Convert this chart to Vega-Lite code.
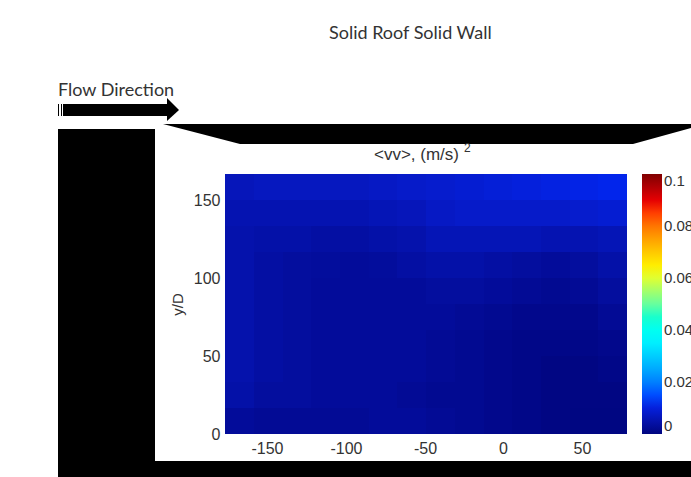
{
"$schema":"https://vega.github.io/schema/vega-lite/v6.json",
"width":402,"height":260,
"autosize":{"type":"none"},
"padding":{"left":225,"top":174,"right":64,"bottom":43},
"background":"white",
"config":{"view":{"stroke":null}},
"layer":[
{"data":{"values":[
{"x0":-176.6,"x1":-158.4,"y0":150,"y1":166.7,"v":0.0065},{"x0":-158.4,"x1":-140.1,"y0":150,"y1":166.7,"v":0.007},{"x0":-140.1,"x1":-121.9,"y0":150,"y1":166.7,"v":0.007},{"x0":-121.9,"x1":-103.7,"y0":150,"y1":166.7,"v":0.007},{"x0":-103.7,"x1":-85.5,"y0":150,"y1":166.7,"v":0.007},{"x0":-85.5,"x1":-67.2,"y0":150,"y1":166.7,"v":0.0075},{"x0":-67.2,"x1":-49,"y0":150,"y1":166.7,"v":0.008},{"x0":-49,"x1":-30.8,"y0":150,"y1":166.7,"v":0.0085},{"x0":-30.8,"x1":-12.5,"y0":150,"y1":166.7,"v":0.009},{"x0":-12.5,"x1":5.7,"y0":150,"y1":166.7,"v":0.0095},{"x0":5.7,"x1":23.9,"y0":150,"y1":166.7,"v":0.01},{"x0":23.9,"x1":42.1,"y0":150,"y1":166.7,"v":0.0105},{"x0":42.1,"x1":60.3,"y0":150,"y1":166.7,"v":0.011},{"x0":60.3,"x1":78.5,"y0":150,"y1":166.7,"v":0.0115},
{"x0":-176.6,"x1":-158.4,"y0":133.4,"y1":150,"v":0.0055},{"x0":-158.4,"x1":-140.1,"y0":133.4,"y1":150,"v":0.0055},{"x0":-140.1,"x1":-121.9,"y0":133.4,"y1":150,"v":0.0055},{"x0":-121.9,"x1":-103.7,"y0":133.4,"y1":150,"v":0.0055},{"x0":-103.7,"x1":-85.5,"y0":133.4,"y1":150,"v":0.0055},{"x0":-85.5,"x1":-67.2,"y0":133.4,"y1":150,"v":0.006},{"x0":-67.2,"x1":-49,"y0":133.4,"y1":150,"v":0.0065},{"x0":-49,"x1":-30.8,"y0":133.4,"y1":150,"v":0.0075},{"x0":-30.8,"x1":-12.5,"y0":133.4,"y1":150,"v":0.008},{"x0":-12.5,"x1":5.7,"y0":133.4,"y1":150,"v":0.008},{"x0":5.7,"x1":23.9,"y0":133.4,"y1":150,"v":0.008},{"x0":23.9,"x1":42.1,"y0":133.4,"y1":150,"v":0.008},{"x0":42.1,"x1":60.3,"y0":133.4,"y1":150,"v":0.0085},{"x0":60.3,"x1":78.5,"y0":133.4,"y1":150,"v":0.009},
{"x0":-176.6,"x1":-158.4,"y0":116.7,"y1":133.4,"v":0.005},{"x0":-158.4,"x1":-140.1,"y0":116.7,"y1":133.4,"v":0.0045},{"x0":-140.1,"x1":-121.9,"y0":116.7,"y1":133.4,"v":0.0045},{"x0":-121.9,"x1":-103.7,"y0":116.7,"y1":133.4,"v":0.004},{"x0":-103.7,"x1":-85.5,"y0":116.7,"y1":133.4,"v":0.004},{"x0":-85.5,"x1":-67.2,"y0":116.7,"y1":133.4,"v":0.0045},{"x0":-67.2,"x1":-49,"y0":116.7,"y1":133.4,"v":0.005},{"x0":-49,"x1":-30.8,"y0":116.7,"y1":133.4,"v":0.006},{"x0":-30.8,"x1":-12.5,"y0":116.7,"y1":133.4,"v":0.006},{"x0":-12.5,"x1":5.7,"y0":116.7,"y1":133.4,"v":0.006},{"x0":5.7,"x1":23.9,"y0":116.7,"y1":133.4,"v":0.006},{"x0":23.9,"x1":42.1,"y0":116.7,"y1":133.4,"v":0.0055},{"x0":42.1,"x1":60.3,"y0":116.7,"y1":133.4,"v":0.0055},{"x0":60.3,"x1":78.5,"y0":116.7,"y1":133.4,"v":0.006},
{"x0":-176.6,"x1":-158.4,"y0":100,"y1":116.7,"v":0.005},{"x0":-158.4,"x1":-140.1,"y0":100,"y1":116.7,"v":0.004},{"x0":-140.1,"x1":-121.9,"y0":100,"y1":116.7,"v":0.0035},{"x0":-121.9,"x1":-103.7,"y0":100,"y1":116.7,"v":0.0032},{"x0":-103.7,"x1":-85.5,"y0":100,"y1":116.7,"v":0.003},{"x0":-85.5,"x1":-67.2,"y0":100,"y1":116.7,"v":0.0032},{"x0":-67.2,"x1":-49,"y0":100,"y1":116.7,"v":0.004},{"x0":-49,"x1":-30.8,"y0":100,"y1":116.7,"v":0.0045},{"x0":-30.8,"x1":-12.5,"y0":100,"y1":116.7,"v":0.0045},{"x0":-12.5,"x1":5.7,"y0":100,"y1":116.7,"v":0.004},{"x0":5.7,"x1":23.9,"y0":100,"y1":116.7,"v":0.0035},{"x0":23.9,"x1":42.1,"y0":100,"y1":116.7,"v":0.003},{"x0":42.1,"x1":60.3,"y0":100,"y1":116.7,"v":0.0035},{"x0":60.3,"x1":78.5,"y0":100,"y1":116.7,"v":0.0045},
{"x0":-176.6,"x1":-158.4,"y0":83.4,"y1":100,"v":0.005},{"x0":-158.4,"x1":-140.1,"y0":83.4,"y1":100,"v":0.004},{"x0":-140.1,"x1":-121.9,"y0":83.4,"y1":100,"v":0.0035},{"x0":-121.9,"x1":-103.7,"y0":83.4,"y1":100,"v":0.003},{"x0":-103.7,"x1":-85.5,"y0":83.4,"y1":100,"v":0.003},{"x0":-85.5,"x1":-67.2,"y0":83.4,"y1":100,"v":0.003},{"x0":-67.2,"x1":-49,"y0":83.4,"y1":100,"v":0.003},{"x0":-49,"x1":-30.8,"y0":83.4,"y1":100,"v":0.0035},{"x0":-30.8,"x1":-12.5,"y0":83.4,"y1":100,"v":0.0035},{"x0":-12.5,"x1":5.7,"y0":83.4,"y1":100,"v":0.003},{"x0":5.7,"x1":23.9,"y0":83.4,"y1":100,"v":0.0025},{"x0":23.9,"x1":42.1,"y0":83.4,"y1":100,"v":0.002},{"x0":42.1,"x1":60.3,"y0":83.4,"y1":100,"v":0.0025},{"x0":60.3,"x1":78.5,"y0":83.4,"y1":100,"v":0.0035},
{"x0":-176.6,"x1":-158.4,"y0":66.7,"y1":83.4,"v":0.005},{"x0":-158.4,"x1":-140.1,"y0":66.7,"y1":83.4,"v":0.004},{"x0":-140.1,"x1":-121.9,"y0":66.7,"y1":83.4,"v":0.0035},{"x0":-121.9,"x1":-103.7,"y0":66.7,"y1":83.4,"v":0.003},{"x0":-103.7,"x1":-85.5,"y0":66.7,"y1":83.4,"v":0.003},{"x0":-85.5,"x1":-67.2,"y0":66.7,"y1":83.4,"v":0.003},{"x0":-67.2,"x1":-49,"y0":66.7,"y1":83.4,"v":0.003},{"x0":-49,"x1":-30.8,"y0":66.7,"y1":83.4,"v":0.003},{"x0":-30.8,"x1":-12.5,"y0":66.7,"y1":83.4,"v":0.0025},{"x0":-12.5,"x1":5.7,"y0":66.7,"y1":83.4,"v":0.002},{"x0":5.7,"x1":23.9,"y0":66.7,"y1":83.4,"v":0.0015},{"x0":23.9,"x1":42.1,"y0":66.7,"y1":83.4,"v":0.0015},{"x0":42.1,"x1":60.3,"y0":66.7,"y1":83.4,"v":0.0015},{"x0":60.3,"x1":78.5,"y0":66.7,"y1":83.4,"v":0.0025},
{"x0":-176.6,"x1":-158.4,"y0":50,"y1":66.7,"v":0.005},{"x0":-158.4,"x1":-140.1,"y0":50,"y1":66.7,"v":0.004},{"x0":-140.1,"x1":-121.9,"y0":50,"y1":66.7,"v":0.0035},{"x0":-121.9,"x1":-103.7,"y0":50,"y1":66.7,"v":0.003},{"x0":-103.7,"x1":-85.5,"y0":50,"y1":66.7,"v":0.003},{"x0":-85.5,"x1":-67.2,"y0":50,"y1":66.7,"v":0.003},{"x0":-67.2,"x1":-49,"y0":50,"y1":66.7,"v":0.003},{"x0":-49,"x1":-30.8,"y0":50,"y1":66.7,"v":0.0025},{"x0":-30.8,"x1":-12.5,"y0":50,"y1":66.7,"v":0.002},{"x0":-12.5,"x1":5.7,"y0":50,"y1":66.7,"v":0.0015},{"x0":5.7,"x1":23.9,"y0":50,"y1":66.7,"v":0.001},{"x0":23.9,"x1":42.1,"y0":50,"y1":66.7,"v":0.001},{"x0":42.1,"x1":60.3,"y0":50,"y1":66.7,"v":0.001},{"x0":60.3,"x1":78.5,"y0":50,"y1":66.7,"v":0.0015},
{"x0":-176.6,"x1":-158.4,"y0":33.4,"y1":50,"v":0.005},{"x0":-158.4,"x1":-140.1,"y0":33.4,"y1":50,"v":0.004},{"x0":-140.1,"x1":-121.9,"y0":33.4,"y1":50,"v":0.0035},{"x0":-121.9,"x1":-103.7,"y0":33.4,"y1":50,"v":0.003},{"x0":-103.7,"x1":-85.5,"y0":33.4,"y1":50,"v":0.003},{"x0":-85.5,"x1":-67.2,"y0":33.4,"y1":50,"v":0.003},{"x0":-67.2,"x1":-49,"y0":33.4,"y1":50,"v":0.003},{"x0":-49,"x1":-30.8,"y0":33.4,"y1":50,"v":0.0025},{"x0":-30.8,"x1":-12.5,"y0":33.4,"y1":50,"v":0.002},{"x0":-12.5,"x1":5.7,"y0":33.4,"y1":50,"v":0.0015},{"x0":5.7,"x1":23.9,"y0":33.4,"y1":50,"v":0.001},{"x0":23.9,"x1":42.1,"y0":33.4,"y1":50,"v":0.0005},{"x0":42.1,"x1":60.3,"y0":33.4,"y1":50,"v":0.0005},{"x0":60.3,"x1":78.5,"y0":33.4,"y1":50,"v":0.001},
{"x0":-176.6,"x1":-158.4,"y0":16.7,"y1":33.4,"v":0.0045},{"x0":-158.4,"x1":-140.1,"y0":16.7,"y1":33.4,"v":0.0035},{"x0":-140.1,"x1":-121.9,"y0":16.7,"y1":33.4,"v":0.0035},{"x0":-121.9,"x1":-103.7,"y0":16.7,"y1":33.4,"v":0.003},{"x0":-103.7,"x1":-85.5,"y0":16.7,"y1":33.4,"v":0.003},{"x0":-85.5,"x1":-67.2,"y0":16.7,"y1":33.4,"v":0.003},{"x0":-67.2,"x1":-49,"y0":16.7,"y1":33.4,"v":0.0025},{"x0":-49,"x1":-30.8,"y0":16.7,"y1":33.4,"v":0.002},{"x0":-30.8,"x1":-12.5,"y0":16.7,"y1":33.4,"v":0.002},{"x0":-12.5,"x1":5.7,"y0":16.7,"y1":33.4,"v":0.0015},{"x0":5.7,"x1":23.9,"y0":16.7,"y1":33.4,"v":0.001},{"x0":23.9,"x1":42.1,"y0":16.7,"y1":33.4,"v":0.0005},{"x0":42.1,"x1":60.3,"y0":16.7,"y1":33.4,"v":0.0005},{"x0":60.3,"x1":78.5,"y0":16.7,"y1":33.4,"v":0.0005},
{"x0":-176.6,"x1":-158.4,"y0":0,"y1":16.7,"v":0.003},{"x0":-158.4,"x1":-140.1,"y0":0,"y1":16.7,"v":0.0025},{"x0":-140.1,"x1":-121.9,"y0":0,"y1":16.7,"v":0.0025},{"x0":-121.9,"x1":-103.7,"y0":0,"y1":16.7,"v":0.0025},{"x0":-103.7,"x1":-85.5,"y0":0,"y1":16.7,"v":0.0025},{"x0":-85.5,"x1":-67.2,"y0":0,"y1":16.7,"v":0.003},{"x0":-67.2,"x1":-49,"y0":0,"y1":16.7,"v":0.003},{"x0":-49,"x1":-30.8,"y0":0,"y1":16.7,"v":0.0025},{"x0":-30.8,"x1":-12.5,"y0":0,"y1":16.7,"v":0.002},{"x0":-12.5,"x1":5.7,"y0":0,"y1":16.7,"v":0.0015},{"x0":5.7,"x1":23.9,"y0":0,"y1":16.7,"v":0.001},{"x0":23.9,"x1":42.1,"y0":0,"y1":16.7,"v":0.0005},{"x0":42.1,"x1":60.3,"y0":0,"y1":16.7,"v":0.0003},{"x0":60.3,"x1":78.5,"y0":0,"y1":16.7,"v":0.0003}
]},
"mark":{"type":"rect"},
"encoding":{
"x":{"field":"x0","type":"quantitative","scale":{"domain":[-176.6,78.5],"nice":false,"zero":false,"round":true},
"axis":{"values":[-150,-100,-50,0,50],"title":null,"grid":false,"domain":false,"ticks":false,"labelFont":"Liberation Sans","labelFontSize":16,"labelColor":"#333333","labelPadding":6,"labelBaseline":"top","labelFlush":false,"labelExpr":"''+datum.value"}},
"x2":{"field":"x1"},
"y":{"field":"y0","type":"quantitative","scale":{"domain":[0,166.7],"nice":false,"zero":false,"round":true},
"axis":{"values":[0,50,100,150],"title":"y/D","titleFont":"Liberation Sans","titleFontSize":15,"titleFontWeight":"normal","titleColor":"#333333","titlePadding":8,"grid":false,"domain":false,"ticks":false,"labelFont":"Liberation Sans","labelFontSize":16,"labelColor":"#333333","labelPadding":5,"labelFlush":false}},
"y2":{"field":"y1"},
"color":{"field":"v","type":"quantitative","scale":{"domain":[0,0.0125,0.0375,0.0625,0.0875,0.1],"range":["#00057f","#0028f5","#00ffff","#ffff00","#ff0000","#800000"]},
"legend":{"orient":"none","legendX":417,"legendY":0,"title":null,"values":[0,0.02,0.04,0.06,0.08,0.1],"gradientLength":260,"gradientThickness":20,"labelFont":"Liberation Sans","labelFontSize":15,"labelColor":"#333333","labelOffset":2,"labelExpr":"format(datum.value,'~g')","encoding":{"labels":{"update":{"dy":{"signal":"datum.value==0?8:datum.value==0.1?-6:0"}}}}}}
}},
{"data":{"values":[{"x0":-282.4,"x1":-220.8,"y0":-27.6,"y1":195.5},{"x0":-220.8,"x1":119.3,"y0":-27.6,"y1":-17.3},{"x0":-279.6,"x1":-213.2,"y0":203.8,"y1":211.5},{"x0":-282.4,"x1":-281.7,"y0":203.8,"y1":211.5},{"x0":-280.9,"x1":-280.3,"y0":203.8,"y1":211.5}]},
"mark":{"type":"rect","color":"black"},
"encoding":{"x":{"field":"x0","type":"quantitative"},"x2":{"field":"x1"},"y":{"field":"y0","type":"quantitative"},"y2":{"field":"y1"}}},
{"data":{"values":[{"x":-215.7,"y":198.7,"y2":198.7},{"x":-166.9,"y":198.7,"y2":185.9},{"x":82.5,"y":198.7,"y2":185.9},{"x":119.3,"y":198.7,"y2":196.2}]},
"mark":{"type":"area","color":"black"},
"encoding":{"x":{"field":"x","type":"quantitative"},"y":{"field":"y","type":"quantitative"},"y2":{"field":"y2"}}},
{"data":{"values":[{"x":-213.2,"y":215.4,"y2":200.6},{"x":-205.6,"y":207.7,"y2":207.7}]},
"mark":{"type":"area","color":"black"},
"encoding":{"x":{"field":"x","type":"quantitative"},"y":{"field":"y","type":"quantitative"},"y2":{"field":"y2"}}},
{"data":{"values":[{"x":-282.4,"y":216.7,"label":"Flow Direction"},{"x":-110.7,"y":253.2,"label":"Solid Roof Solid Wall"}]},
"mark":{"type":"text","font":"Lato","fontSize":18,"color":"#333333","align":"left","baseline":"alphabetic"},
"encoding":{"x":{"field":"x","type":"quantitative"},"y":{"field":"y","type":"quantitative"},"text":{"field":"label"}}},
{"data":{"values":[{"x":-81.9,"y":175.6,"label":"<vv>, (m/s)"}]},
"mark":{"type":"text","font":"Liberation Sans","fontSize":17,"color":"#333333","align":"left","baseline":"alphabetic"},
"encoding":{"x":{"field":"x","type":"quantitative"},"y":{"field":"y","type":"quantitative"},"text":{"field":"label"}}},
{"data":{"values":[{"x":-25,"y":180.5,"label":"2"}]},
"mark":{"type":"text","font":"Liberation Sans","fontSize":12,"color":"#333333","align":"left","baseline":"alphabetic"},
"encoding":{"x":{"field":"x","type":"quantitative"},"y":{"field":"y","type":"quantitative"},"text":{"field":"label"}}}
]
}
